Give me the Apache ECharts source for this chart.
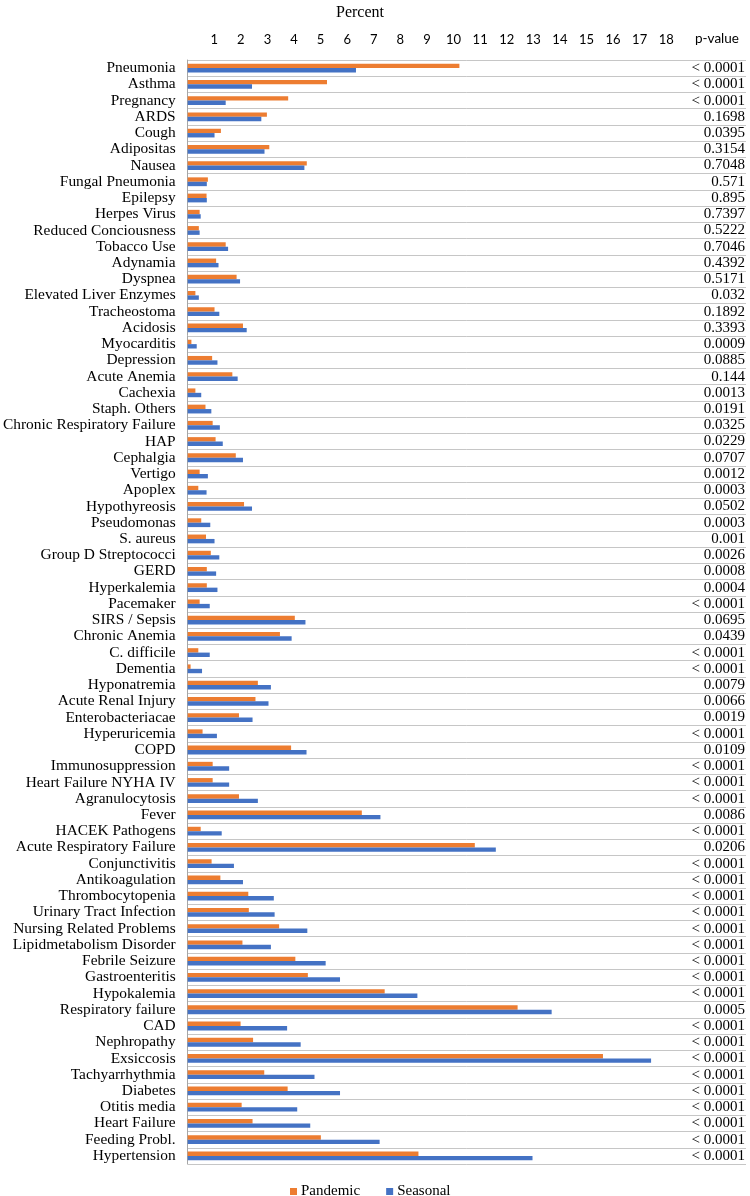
<!DOCTYPE html>
<html>
<head>
<meta charset="utf-8">
<script src="https://cdn.jsdelivr.net/npm/echarts@6/dist/echarts.min.js"></script>
<style>html,body{margin:0;padding:0;background:#fff}#chart{width:750px;height:1196px}</style>
</head>
<body>
<div id="chart"></div>
<script>
const categories = ['Pneumonia','Asthma','Pregnancy','ARDS','Cough','Adipositas','Nausea','Fungal Pneumonia','Epilepsy','Herpes Virus','Reduced Conciousness','Tobacco Use','Adynamia','Dyspnea','Elevated Liver Enzymes','Tracheostoma','Acidosis','Myocarditis','Depression','Acute Anemia','Cachexia','Staph. Others','Chronic Respiratory Failure','HAP','Cephalgia','Vertigo','Apoplex','Hypothyreosis','Pseudomonas','S. aureus','Group D Streptococci','GERD','Hyperkalemia','Pacemaker','SIRS / Sepsis','Chronic Anemia','C. difficile','Dementia','Hyponatremia','Acute Renal Injury','Enterobacteriacae','Hyperuricemia','COPD','Immunosuppression','Heart Failure NYHA IV','Agranulocytosis','Fever','HACEK Pathogens','Acute Respiratory Failure','Conjunctivitis','Antikoagulation','Thrombocytopenia','Urinary Tract Infection','Nursing Related Problems','Lipidmetabolism Disorder','Febrile Seizure','Gastroenteritis','Hypokalemia','Respiratory failure','CAD','Nephropathy','Exsiccosis','Tachyarrhythmia','Diabetes','Otitis media','Heart Failure','Feeding Probl.','Hypertension'];

const pandemic = [10.22,5.24,3.78,2.98,1.25,3.07,4.48,0.76,0.71,0.45,0.42,1.43,1.07,1.84,0.29,1.01,2.08,0.14,0.92,1.68,0.29,0.67,0.94,1.05,1.81,0.45,0.40,2.12,0.51,0.69,0.87,0.72,0.72,0.45,4.03,3.47,0.40,0.11,2.64,2.55,1.93,0.56,3.89,0.94,0.94,1.93,6.55,0.49,10.80,0.90,1.23,2.28,2.30,3.44,2.06,4.05,4.52,7.41,12.41,1.99,2.46,15.62,2.88,3.76,2.03,2.44,5.01,8.68];

const seasonal = [6.33,2.42,1.43,2.77,1.01,2.89,4.39,0.72,0.72,0.49,0.45,1.52,1.16,1.97,0.42,1.19,2.22,0.34,1.12,1.88,0.51,0.89,1.21,1.32,2.08,0.76,0.71,2.42,0.85,1.01,1.19,1.07,1.12,0.83,4.43,3.91,0.83,0.54,3.13,3.04,2.44,1.10,4.47,1.56,1.56,2.64,7.25,1.28,11.59,1.74,2.08,3.24,3.27,4.50,3.13,5.19,5.73,8.64,13.69,3.74,4.25,17.43,4.77,5.73,4.12,4.61,7.22,12.97];

const pValues = ['< 0.0001','< 0.0001','< 0.0001','0.1698','0.0395','0.3154','0.7048','0.571','0.895','0.7397','0.5222','0.7046','0.4392','0.5171','0.032','0.1892','0.3393','0.0009','0.0885','0.144','0.0013','0.0191','0.0325','0.0229','0.0707','0.0012','0.0003','0.0502','0.0003','0.001','0.0026','0.0008','0.0004','< 0.0001','0.0695','0.0439','< 0.0001','< 0.0001','0.0079','0.0066','0.0019','< 0.0001','0.0109','< 0.0001','< 0.0001','< 0.0001','0.0086','< 0.0001','0.0206','< 0.0001','< 0.0001','< 0.0001','< 0.0001','< 0.0001','< 0.0001','< 0.0001','< 0.0001','< 0.0001','0.0005','< 0.0001','< 0.0001','< 0.0001','< 0.0001','< 0.0001','< 0.0001','< 0.0001','< 0.0001','< 0.0001'];

const tickMin = 1, tickMax = 18;
const seriesNames = ['Pandemic', 'Seasonal'];

const serif = '"Liberation Serif", "Times New Roman", serif';
const sans = 'Lato, "Open Sans", sans-serif';

const chart = echarts.init(document.getElementById('chart'), null, {renderer: 'canvas'});
chart.setOption({
  animation: false,
  color: ['#ED7D31', '#4472C4'],
  title: {
    text: 'Percent', left: 331, top: 0,
    textStyle: {fontFamily: serif, fontSize: 16, fontWeight: 'normal', color: '#000'}
  },
  graphic: [{
    type: 'text', left: 695, top: 32,
    style: {text: 'p-value', font: '13.5px ' + sans, fill: '#000'}
  }],
  legend: {
    data: seriesNames, left: 285, top: 1179, icon: 'rect', itemWidth: 7, itemHeight: 7,
    itemGap: 26, textStyle: {fontFamily: serif, fontSize: 15, color: '#000', padding: [0,0,0,-1]}
  },
  grid: {left: 187, right: 4, top: 60, bottom: 32, containLabel: false},
  xAxis: {
    type: 'value', position: 'top', min: 0, max: 21, interval: 1,
    axisLine: {show: false}, axisTick: {show: false}, splitLine: {show: false},
    axisLabel: {
      margin: 14, fontFamily: sans, fontSize: 13, color: '#000',
      formatter: v => (v >= tickMin && v <= tickMax) ? String(v) : ''
    }
  },
  yAxis: [{
    type: 'category', data: categories, inverse: true,
    axisLine: {show: true, lineStyle: {color: '#a6a6a6', width: 1}},
    axisTick: {show: false},
    splitLine: {show: true, lineStyle: {color: '#c6c6c6', width: 1}},
    axisLabel: {interval: 0, margin: 12, fontFamily: serif, fontSize: 15.4, color: '#000'}
  }, {
    type: 'category', data: categories, inverse: true, position: 'right',
    axisLine: {show: false}, axisTick: {show: false}, splitLine: {show: false},
    axisLabel: {
      interval: 0, inside: true, margin: 1, fontFamily: serif, fontSize: 15, color: '#000',
      formatter: (v, i) => pValues[i]
    }
  }],
  series: [{
    name: seriesNames[0], type: 'bar', data: pandemic, barWidth: 4.4, barGap: '0%'
  }, {
    name: seriesNames[1], type: 'bar', data: seasonal, barWidth: 4.4, barGap: '0%'
  }]
});
</script>
</body>
</html>
